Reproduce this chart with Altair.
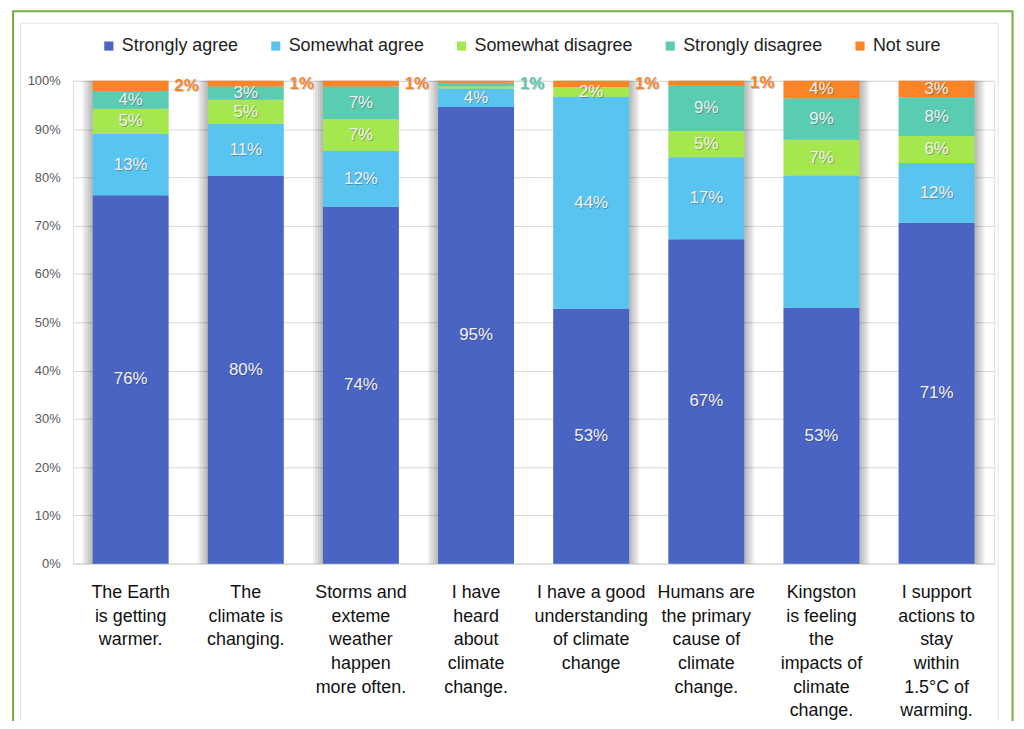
import altair as alt
import pandas as pd

# ---------------- data ----------------
questions = [
    "The Earth|is getting|warmer.",
    "The|climate is|changing.",
    "Storms and|exteme|weather|happen|more often.",
    "I have|heard|about|climate|change.",
    "I have a good|understanding|of climate|change",
    "Humans are|the primary|cause of|climate|change.",
    "Kingston|is feeling|the|impacts of|climate|change.",
    "I support|actions to|stay|within|1.5°C of|warming.",
]
series = ["Strongly agree", "Somewhat agree", "Somewhat disagree", "Strongly disagree", "Not sure"]
colors = ["#4A64C4", "#5AC4F0", "#A5E74F", "#5ACCB1", "#FA8528"]

strongly_agree = [76.3, 80.3, 73.9, 94.6, 52.8, 67.2, 53.0, 70.6]
somewhat_agree = [12.7, 10.8, 11.6, 3.8, 43.9, 17.0, 27.4, 12.4]
somewhat_disagree = [5.2, 5.0, 6.6, 0.5, 2.0, 5.4, 7.4, 5.6]
strongly_disagree = [3.7, 2.7, 6.7, 0.7, 0.0, 9.4, 8.6, 8.0]
not_sure = [2.1, 1.2, 1.2, 0.4, 1.3, 1.0, 3.6, 3.4]

# labels drawn beside the bar instead of inside, and labels omitted
outside_labels = [(0, "Not sure"), (1, "Not sure"), (2, "Not sure"),
                  (3, "Strongly disagree"), (4, "Not sure"), (5, "Not sure")]
hidden_labels = [(6, "Somewhat agree")]

values = [strongly_agree, somewhat_agree, somewhat_disagree, strongly_disagree, not_sure]

rows = []
for qi, q in enumerate(questions):
    cum = 0.0
    for si, s in enumerate(series):
        v = values[si][qi]
        start, end = cum, cum + v
        cum = end
        if (qi, s) in outside_labels:
            place = "out"
        elif (qi, s) in hidden_labels or v < 1.9:
            place = "none"
        else:
            place = "in"
        rows.append(dict(q=q, qi=qi, series=s, value=v, start=start, end=end,
                         mid=(start + end) / 2, label=f"{round(v):.0f}%", place=place))
df = pd.DataFrame(rows)

FONT = "Liberation Sans"

xenc = alt.X("q:N", sort=questions, title=None,
             scale=alt.Scale(paddingInner=0.34, paddingOuter=0.17),
             axis=alt.Axis(labelExpr="split(datum.label, '|')", labelAngle=0,
                           labelFontSize=18, labelColor="#111111", labelLineHeight=23.8,
                           labelPadding=20, labelBaseline="top", labelLimit=300,
                           domainColor="#D9D9D9", ticks=False, labelFont=FONT))
yscale = alt.Scale(domain=[0, 100], nice=False)

base = alt.Chart(df)

bars = base.mark_bar().encode(
    x=xenc,
    y=alt.Y("end:Q", scale=yscale, title=None,
            axis=alt.Axis(values=list(range(0, 101, 10)), labelExpr="datum.value + '%'",
                          labelFontSize=13, labelColor="#595959", labelPadding=13,
                          domain=False, ticks=False, gridColor="#D9D9D9", labelFont=FONT)),
    y2="start:Q",
    color=alt.Color("series:N", sort=series,
                    scale=alt.Scale(domain=series, range=colors),
                    legend=alt.Legend(title=None, orient="none", direction="horizontal",
                                      legendX=27, legendY=-44, symbolType="square",
                                      symbolSize=85, symbolStrokeWidth=0,
                                      labelFontSize=18, labelColor="#222222",
                                      labelFont=FONT, labelOffset=4, columnPadding=28)),
)

# soft side shadows of the bars (left for the first half, right for the second half)
tops = base.transform_filter("datum.series == 'Not sure'")
shadows = []
for k in range(1, 5):
    for cond, sign in (("datum.qi < 4", -1), ("datum.qi >= 4", 1)):
        shadows.append(
            tops.transform_filter(cond).mark_bar(color="#000000", opacity=0.07, xOffset=sign * 2.5 * k)
            .encode(x=xenc, y=alt.Y("end:Q", scale=yscale), y2=alt.datum(0))
        )

inside = base.transform_filter("datum.place == 'in'")
in_shadow = inside.mark_text(fontSize=17, font=FONT, color="#333333", opacity=0.35, dx=1, dy=1).encode(
    x=xenc, y=alt.Y("mid:Q", scale=yscale), text="label:N")
in_text = inside.mark_text(fontSize=17, font=FONT, color="#F2F2F2").encode(
    x=xenc, y=alt.Y("mid:Q", scale=yscale), text="label:N")

outside = base.transform_filter("datum.place == 'out'")
out_shadow = outside.mark_text(fontSize=17, font=FONT, fontWeight="bold", align="left", dx=45, dy=1,
                               color="#555555", opacity=0.3).encode(
    x=xenc, y=alt.Y("mid:Q", scale=yscale), text="label:N")
out_text = outside.mark_text(fontSize=17, font=FONT, fontWeight="bold", align="left", dx=44).encode(
    x=xenc, y=alt.Y("mid:Q", scale=yscale), text="label:N",
    color=alt.Color("series:N", scale=alt.Scale(domain=series, range=colors), legend=None))

frame_data = alt.Data(values=[{}])
green_frame = alt.Chart(frame_data).mark_rect(fill="transparent", stroke="#72B043", strokeWidth=2).encode(
    x=alt.value(-60.5), x2=alt.value(945.5), y=alt.value(-70), y2=alt.value(700))
inner_frame = alt.Chart(frame_data).mark_rect(fill="transparent", stroke="#E3E3E3", strokeWidth=1).encode(
    x=alt.value(-53), x2=alt.value(931), y=alt.value(-58), y2=alt.value(700))

chart = alt.layer(green_frame, inner_frame, *shadows, bars, in_shadow, in_text,
                  out_shadow, out_text).properties(
    width=927, height=486,
    autosize=alt.AutoSizeParams(type="none"),
    padding={"left": 65.5, "top": 71, "right": 22, "bottom": 156},
).configure_view(stroke=None).configure(background="white", font=FONT)

chart.save("out.html", embed_options={"renderer": "svg", "actions": False})
